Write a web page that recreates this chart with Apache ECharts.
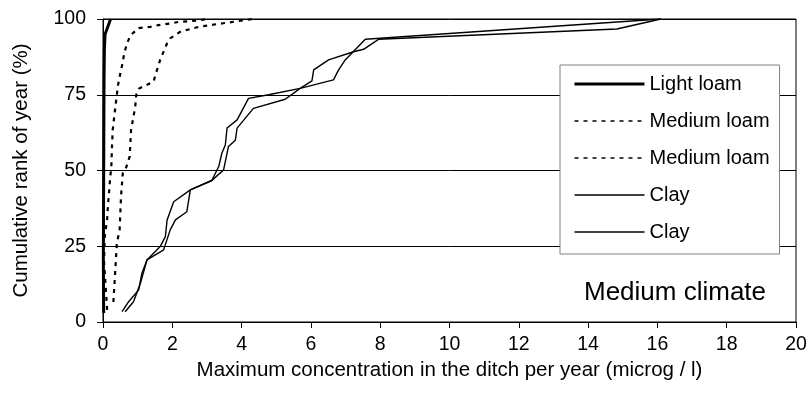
<!DOCTYPE html>
<html>
<head>
<meta charset="utf-8">
<script src="https://cdn.jsdelivr.net/npm/echarts@6/dist/echarts.min.js"></script>
<style>
  html, body { margin: 0; padding: 0; background: #fff; }
  #chart { width: 811px; height: 406px; }
</style>
</head>
<body>
<div id="chart"></div>
<script>
// Maximum concentration per year (microg/l) vs cumulative rank of year (%)
const lightLoam = [
  [0.02, 3], [0.01, 20], [0.02, 50], [0.03, 80], [0.04, 90], [0.06, 95], [0.22, 100]
];
const mediumLoamA = [
  [0.12, 4], [0.03, 20], [0.05, 28], [0.12, 34], [0.14, 38], [0.18, 43.6], [0.21, 48],
  [0.24, 51], [0.26, 58], [0.28, 63.4], [0.33, 68.3], [0.43, 78], [0.5, 82],
  [0.55, 84.7], [0.62, 89], [0.69, 91.8], [0.79, 94.6], [1.03, 97], [1.36, 97.4],
  [1.6, 98], [1.94, 98.5], [2.17, 99], [2.8, 99.6], [3.0, 100]
];
const mediumLoamB = [
  [0.3, 6.6], [0.4, 26], [0.48, 30.4], [0.52, 41.4], [0.57, 49], [0.64, 50],
  [0.77, 54.6], [0.81, 63.4], [0.88, 67.8], [0.93, 71], [0.96, 75], [1.03, 77],
  [1.46, 79.3], [1.5, 81], [1.65, 86.5], [1.85, 92], [1.94, 93.6], [2.23, 95.8],
  [2.8, 97.5], [3.47, 98.6], [4.33, 100]
];
const clayA = [
  [0.55, 3.4], [0.74, 6.7], [1.03, 10.6], [1.12, 16], [1.27, 20.5], [1.65, 24.9],
  [1.8, 28.2], [1.85, 33.7], [2.04, 39.7], [2.52, 43.6], [3.14, 46.7], [3.34, 51.3],
  [3.43, 55.7], [3.53, 58.4], [3.58, 64], [3.87, 66.7], [4.2, 73.8], [4.78, 75],
  [5.69, 77.1], [6.65, 79.9], [6.8, 83.2], [6.99, 86.5], [7.57, 93.3], [16.1, 100]
];
const clayB = [
  [0.64, 3.4], [0.88, 6.7], [1.08, 12.8], [1.27, 20.5], [1.75, 23.8], [1.94, 30.4],
  [2.09, 33.7], [2.42, 36.4], [2.52, 43.6], [3.14, 46.7], [3.48, 50.2], [3.62, 57.9],
  [3.82, 60], [3.87, 64], [4.34, 70.5], [5.26, 73.5], [5.69, 77.1], [6.03, 79.6],
  [6.08, 83.2], [6.51, 86.5], [7.23, 89.2], [7.52, 90], [7.95, 93.3], [14.83, 96.7],
  [16.1, 100]
];

const legendLabels = {
  light: 'Light loam',
  mediumA: 'Medium loam',
  mediumB: 'Medium loam',
  clayA: 'Clay',
  clayB: 'Clay'
};

const FONT = '"Liberation Sans", Arial, sans-serif';

function lineSeries(name, data, lineStyle) {
  return {
    name: name,
    type: 'line',
    data: data,
    symbol: 'none',
    showSymbol: false,
    smooth: false,
    animation: false,
    lineStyle: Object.assign({ color: '#000' }, lineStyle),
    itemStyle: { color: '#000' }
  };
}

const chart = echarts.init(document.getElementById('chart'), null, { renderer: 'canvas' });
chart.setOption({
  backgroundColor: '#fff',
  animation: false,
  grid: {
    left: 103, right: 15, top: 19, bottom: 84,
    show: true, borderColor: '#000', borderWidth: 1, backgroundColor: 'transparent'
  },
  xAxis: {
    type: 'value', min: 0, max: 20, interval: 2,
    name: 'Maximum concentration in the ditch per year (microg / l)',
    nameLocation: 'middle', nameGap: 38,
    nameTextStyle: { fontFamily: FONT, fontSize: 20.5, color: '#000' },
    axisLine: { show: true, lineStyle: { color: '#000', width: 1 } },
    axisTick: { show: true, length: 6, inside: false, lineStyle: { color: '#000' } },
    axisLabel: { fontFamily: FONT, fontSize: 19.5, color: '#000', margin: 13 },
    splitLine: { show: false }
  },
  yAxis: {
    type: 'value', min: 0, max: 100, interval: 25,
    name: 'Cumulative rank of year (%)',
    nameLocation: 'middle', nameGap: 71, nameRotate: 90,
    nameTextStyle: { fontFamily: FONT, fontSize: 20.5, color: '#000' },
    axisLine: { show: true, lineStyle: { color: '#000', width: 1 } },
    axisTick: { show: true, length: 6, inside: false, lineStyle: { color: '#000' } },
    axisLabel: { fontFamily: FONT, fontSize: 19.5, color: '#000', margin: 17 },
    splitLine: { show: true, lineStyle: { color: '#000', width: 1 } }
  },
  legend: {
    orient: 'vertical',
    left: 560, top: 65,
    padding: [9, 10, 12, 13],
    itemGap: 17,
    itemWidth: 70,
    itemHeight: 14,
    backgroundColor: '#fff',
    borderColor: '#808080',
    borderWidth: 1,
    selectedMode: false,
    itemStyle: { opacity: 0 },
    formatter: function (name) { return legendLabels[name]; },
    textStyle: { fontFamily: FONT, fontSize: 20, color: '#000' },
    data: [
      { name: 'light', lineStyle: { width: 3 } },
      { name: 'mediumA', lineStyle: { width: 1.6, type: [4, 5] } },
      { name: 'mediumB', lineStyle: { width: 1.6, type: [4, 5] } },
      { name: 'clayA', lineStyle: { width: 1.3 } },
      { name: 'clayB', lineStyle: { width: 1.3 } }
    ]
  },
  graphic: [{
    type: 'text',
    left: 584, top: 280,
    silent: true,
    style: { text: 'Medium climate', fontFamily: FONT, fontSize: 26, fill: '#000' }
  }],
  series: [
    lineSeries('light', lightLoam, { width: 3 }),
    lineSeries('mediumA', mediumLoamA, { width: 2.2, type: [4, 5] }),
    lineSeries('mediumB', mediumLoamB, { width: 2.2, type: [4, 5] }),
    lineSeries('clayA', clayA, { width: 1.4 }),
    lineSeries('clayB', clayB, { width: 1.4 })
  ]
});
</script>
</body>
</html>
